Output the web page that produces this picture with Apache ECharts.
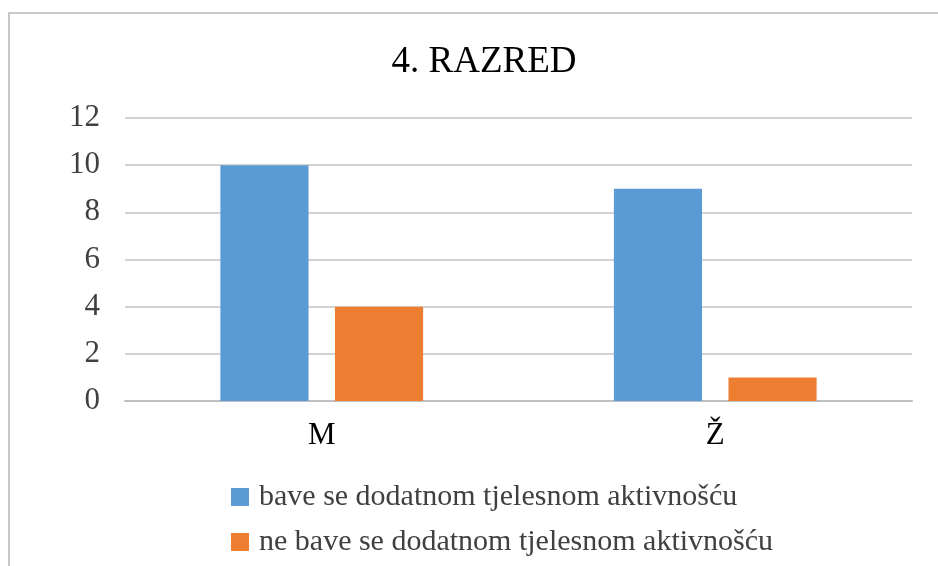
<!DOCTYPE html>
<html>
<head>
<meta charset="utf-8">
<script src="https://cdn.jsdelivr.net/npm/echarts@6/dist/echarts.min.js"></script>
<style>
  html, body { margin: 0; padding: 0; background: #fff; }
  #chart { width: 938px; height: 566px; }
</style>
</head>
<body>
<div id="chart"></div>
<script>
var categories = ["M", "Ž"];
var seriesNames = ["bave se dodatnom tjelesnom aktivnošću", "ne bave se dodatnom tjelesnom aktivnošću"];
var baveValues = [10, 9];
var neBaveValues = [4, 1];
var yTicks = { min: 0, max: 12, interval: 2 };

var font = "'Liberation Serif', 'Times New Roman', serif";
var textColor = "#404040";

var myChart = echarts.init(document.getElementById("chart"));
var option = {
  animation: false,
  textStyle: { fontFamily: font },
  graphic: [{
    type: "polyline",
    shape: { points: [[9, 566], [9, 13], [940, 13]] },
    style: { stroke: "#c8c8c8", lineWidth: 2, fill: null }
  }],
  title: {
    text: "4. RAZRED",
    left: 479,
    textAlign: "center",
    top: 39,
    textStyle: { fontFamily: font, fontSize: 37, fontWeight: "normal", color: "#000" }
  },
  legend: {
    orient: "vertical",
    left: 226,
    top: 477,
    itemWidth: 18,
    itemHeight: 18,
    itemGap: 15,
    icon: "rect",
    textStyle: { fontFamily: font, fontSize: 30, color: textColor, padding: [0, 0, 0, 5] }
  },
  grid: { left: 125, right: 26, top: 118, bottom: 165 },
  xAxis: {
    type: "category",
    data: categories,
    axisLine: { lineStyle: { color: "#bfbfbf", width: 2 } },
    axisTick: { show: false },
    axisLabel: { fontFamily: font, fontSize: 31, color: "#000", margin: 19 }
  },
  yAxis: {
    type: "value",
    min: yTicks.min,
    max: yTicks.max,
    interval: yTicks.interval,
    axisLine: { show: false },
    axisTick: { show: false },
    axisLabel: { fontFamily: font, fontSize: 31, color: textColor, margin: 25 },
    splitLine: { lineStyle: { color: "#c4c4c4", width: 1.5 } }
  },
  series: [
    {
      name: seriesNames[0],
      type: "bar",
      data: baveValues,
      barWidth: "22.4%",
      barGap: "30%",
      itemStyle: { color: "#5B9BD5" }
    },
    {
      name: seriesNames[1],
      type: "bar",
      data: neBaveValues,
      barWidth: "22.4%",
      barGap: "30%",
      itemStyle: { color: "#ED7D31" }
    }
  ]
};
myChart.setOption(option);
</script>
</body>
</html>
